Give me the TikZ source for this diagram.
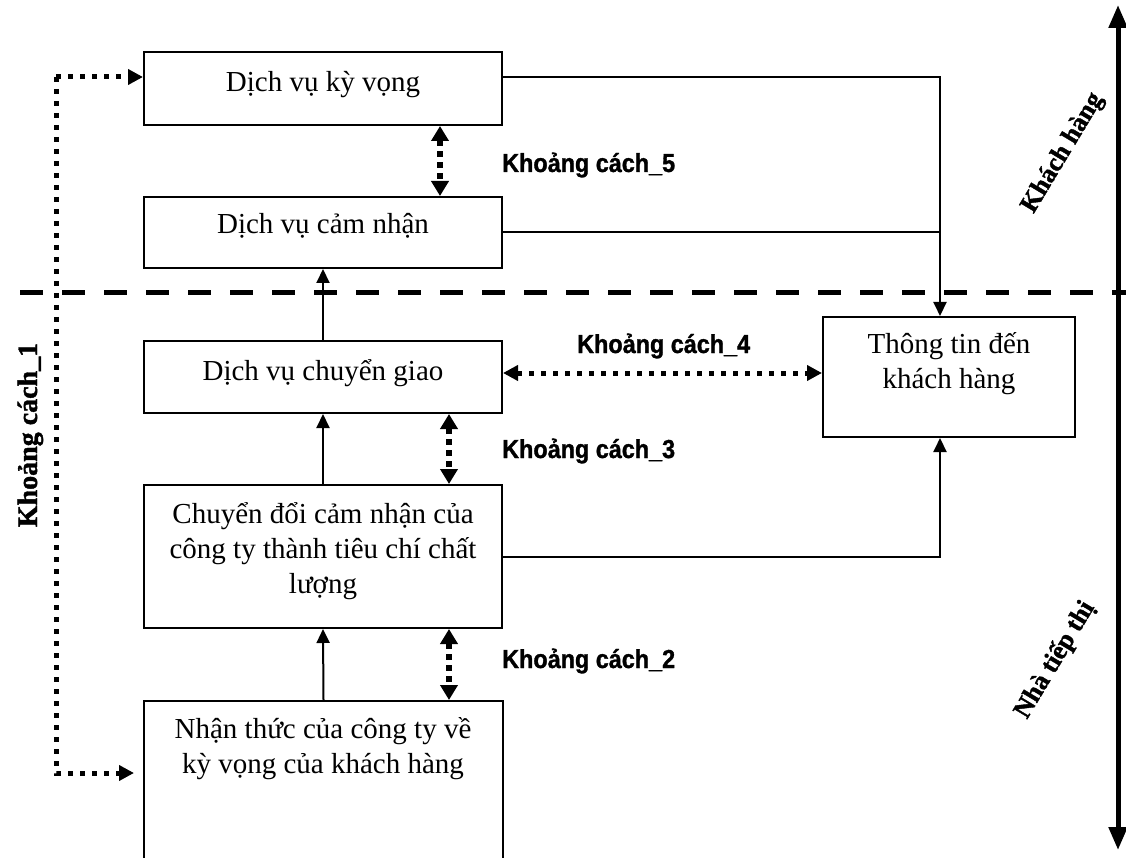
\documentclass[tikz,border=0pt]{standalone}
\usepackage{fontspec}
\setmainfont{Liberation Serif}
\newfontfamily\lblfont[FakeStretch=0.9,BoldFeatures={FakeBold=1.2}]{Liberation Sans}
\newfontfamily\sidefont[BoldFeatures={FakeBold=1.5}]{Liberation Serif}
\usetikzlibrary{arrows.meta,calc}
\begin{document}
\begin{tikzpicture}[x=1pt,y=-1pt,
  box/.style={draw,line width=2pt,rectangle,inner sep=0pt},
  txt/.style={font=\fontsize{29}{35}\selectfont,inner sep=0pt,align=center,anchor=base},
  lbl/.style={font=\lblfont\bfseries\fontsize{26}{30}\selectfont,inner sep=0pt,anchor=base west},
  side/.style={font=\sidefont\bfseries\fontsize{26}{30}\selectfont,inner sep=0pt},
  conn/.style={line width=2pt},
  arr/.style={conn,-{Triangle[length=14pt,width=13pt]}},
  gapv/.style={line width=6pt,dash pattern=on 6pt off 5pt,{Triangle[length=15pt,width=17pt]}-{Triangle[length=15pt,width=17pt]}},
  gaph/.style={line width=5pt,dash pattern=on 5pt off 7pt,{Triangle[length=15pt,width=15pt]}-{Triangle[length=15pt,width=15pt]}},
  gapl/.style={line width=5pt,dash pattern=on 5pt off 7pt,-{Triangle[length=15pt,width=15pt]}},
  divider/.style={line width=5pt,dash pattern=on 23pt off 19pt},
  axis/.style={line width=5pt,{Triangle[length=23pt,width=18pt]}-{Triangle[length=23pt,width=18pt]}}
]
\useasboundingbox (0,0) rectangle (1126,858);
\clip (0,0) rectangle (1126,858);

% boxes
\node[box,minimum width=358pt,minimum height=73pt] (b1) at (323,88.5) {};
\node[box,minimum width=358pt,minimum height=71pt] (b2) at (323,232.5) {};
\node[box,minimum width=358pt,minimum height=72pt] (b3) at (323,377) {};
\node[box,minimum width=358pt,minimum height=143pt] (b4) at (323,556.5) {};
\node[box,minimum width=359pt,minimum height=198pt] (b5) at (323.5,800) {};
\node[box,minimum width=252pt,minimum height=120pt] (b6) at (949,377) {};

% box texts (anchor = baseline of the last line)
\node[txt] (t1) at (323,92) {Dịch vụ kỳ vọng};
\node[txt] (t2) at (323,234) {Dịch vụ cảm nhận};
\node[txt] (t3) at (323,380) {Dịch vụ chuyển giao};
\node[txt] (t4) at (323,593) {Chuyển đổi cảm nhận của\\công ty thành tiêu chí chất\\lượng};
\node[txt] (t5) at (323,773) {Nhận thức của công ty về\\kỳ vọng của khách hàng};
\node[txt] (t6) at (949,388) {Thông tin đến\\khách hàng};

% divider and axis
\coordinate (dl) at (20,293);
\coordinate (dr) at (1126,293);
\draw[divider] (dl) -- (dr);
\coordinate (at) at (1118,5);
\coordinate (ab) at (1118,850);
\draw[axis] (at) -- (ab);

% solid connectors
\coordinate (j1) at (940,77);
\draw[arr] (b1.east |- j1) -- (j1) -- (j1 |- b6.north);
\draw[conn] (b2.east) -- (j1 |- b2.east);
\draw[arr] (b4.east) -- (j1 |- b4.east) -- (j1 |- b6.south);
\draw[arr] (b5.north) -- (b4.south);
\draw[arr] (b4.north) -- (b3.south);
\draw[arr] (b3.north) -- (b2.south);

% gap arrows
\coordinate (g5) at (440,0);
\coordinate (g3) at (449,0);
\draw[gapv] (b1.south -| g5) -- (b2.north -| g5);
\draw[gapv] (b3.south -| g3) -- (b4.north -| g3);
\draw[gapv] (b4.south -| g3) -- (b5.north -| g3);
\coordinate (h4) at (0,373);
\draw[gaph] (b3.east |- h4) -- (b6.west |- h4);
\coordinate (l1) at (56,77);
\coordinate (l2) at (56,773);
\draw[gapl] (l1) -- (b1.west |- l1);
\draw[gapl,shorten >=9pt] (l1) -- (l2) -- (b5.west |- l2);

% labels
\node[lbl] (k5) at (502,172) {Khoảng cách\_5};
\node[lbl] (k4) at (577,353) {Khoảng cách\_4};
\node[lbl] (k3) at (502,458) {Khoảng cách\_3};
\node[lbl] (k2) at (502,668) {Khoảng cách\_2};
\node[side,font=\sidefont\bfseries\fontsize{28}{30}\selectfont,rotate=90,anchor=base] (k1) at (37,435) {Khoảng cách\_1};
\node[side,rotate=59] (kh) at (1063,153) {Khách hàng};
\node[side,rotate=59] (nt) at (1055,660) {Nhà tiếp thị};
\end{tikzpicture}
\end{document}
